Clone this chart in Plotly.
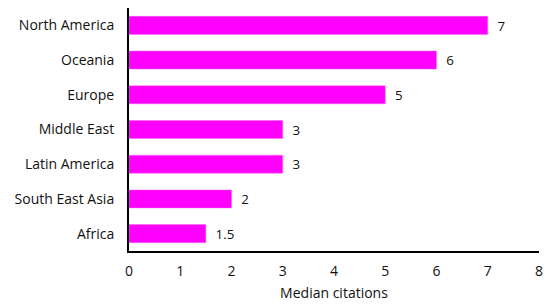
import plotly.graph_objects as go

regions = ["Africa", "South East Asia", "Latin America", "Middle East", "Europe", "Oceania", "North America"]
median_citations = [1.5, 2, 3, 3, 5, 6, 7]
value_labels = ["1.5", "2", "3", "3", "5", "6", "7"]
x_ticks = [0, 1, 2, 3, 4, 5, 6, 7, 8]

FONT = "Open Sans, Liberation Sans, sans-serif"

fig = go.Figure(go.Bar(
    y=regions, x=median_citations, orientation="h",
    marker=dict(color="#FF00FF", line=dict(color="#FF66FF", width=0.5)),
    width=0.52,
    text=["\u2002" + v for v in value_labels], textposition="outside",
    textfont=dict(family=FONT, size=14, color="#111111"),
    cliponaxis=False,
    hoverinfo="skip",
))

fig.update_layout(
    width=546, height=306,
    margin=dict(l=129, r=7, t=8, b=55, autoexpand=False),
    paper_bgcolor="white", plot_bgcolor="white",
    showlegend=False,
    font=dict(family=FONT, size=14, color="#111111"),
    xaxis=dict(
        range=[0, 8], tickvals=x_ticks, showgrid=False, zeroline=False,
        automargin=False,
        showline=True, linecolor="black", linewidth=2,
        ticks="outside", ticklen=6, tickcolor="rgba(0,0,0,0)",
        title=dict(text="Median citations", standoff=9, font=dict(size=14)),
        tickfont=dict(size=14),
    ),
    yaxis=dict(
        showgrid=False, zeroline=False, automargin=False,
        showline=True, linecolor="black", linewidth=2,
        ticks="outside", ticklen=10, tickcolor="rgba(0,0,0,0)",
        tickfont=dict(size=14),
        range=[-0.5, 6.5],
    ),
)

fig.write_html("out.html", post_script="document.body.style.margin='0';",
               config={"displayModeBar": False})
